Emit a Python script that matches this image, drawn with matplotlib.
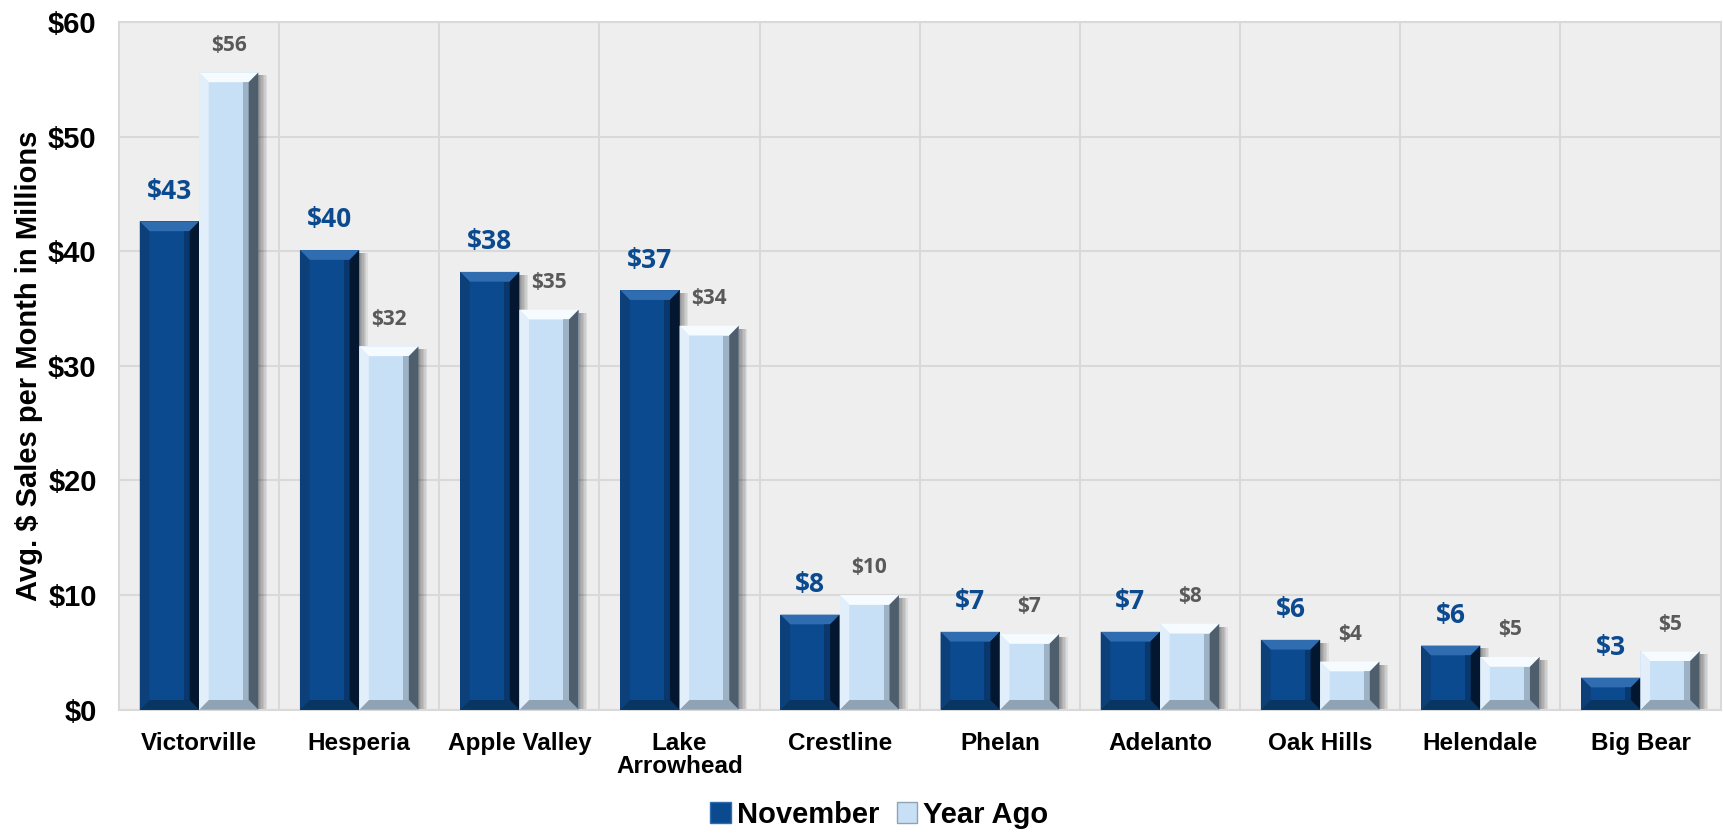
import numpy as np
import matplotlib.pyplot as plt
from matplotlib.patches import Polygon, Rectangle, Patch
from matplotlib.ticker import FuncFormatter

cities = ['Victorville', 'Hesperia', 'Apple Valley', 'Lake\nArrowhead', 'Crestline',
          'Phelan', 'Adelanto', 'Oak Hills', 'Helendale', 'Big Bear']
november = [42.6, 40.1, 38.2, 36.6, 8.3, 6.8, 6.8, 6.1, 5.6, 2.8]
year_ago = [55.6, 31.7, 34.9, 33.5, 10.0, 6.6, 7.5, 4.2, 4.6, 5.1]

NOV_COLOR = '#0B4A8E'
AGO_COLOR = '#C7E0F6'


def bevel_bar(ax, x0, w, h, base, top, left, right, bottom, dx=0.06, dy=0.85):
    x1 = x0 + w
    dy = min(dy, h / 3)
    # soft shadow on the right side
    for k in range(6):
        ax.add_patch(Rectangle((x1, 0), 0.009 * (k + 1), h - dy * 0.3,
                               color='black', alpha=0.07, lw=0, zorder=2))
    ax.add_patch(Rectangle((x0, 0), w, h, color=base, lw=0, zorder=3))
    faces = [
        ([(x0, h), (x1, h), (x1 - dx, h - dy), (x0 + dx, h - dy)], top),
        ([(x0, 0), (x1, 0), (x1 - dx, dy), (x0 + dx, dy)], bottom),
        ([(x0, 0), (x0 + dx, dy), (x0 + dx, h - dy), (x0, h)], left),
        ([(x1, 0), (x1 - dx, dy), (x1 - dx, h - dy), (x1, h)], right),
    ]
    for pts, c in faces:
        ax.add_patch(Polygon(pts, closed=True, color=c, lw=0, zorder=4))
    # darker inner strip next to the right face
    ax.add_patch(Rectangle((x1 - dx * 1.6, dy), dx * 0.6, h - 2 * dy,
                           color=right, alpha=0.35, lw=0, zorder=4))


fig = plt.figure(figsize=(17.24, 8.34), dpi=100)
ax = fig.add_axes([0.069, 0.149, 0.929, 0.8246])
ax.set_facecolor('#EEEEEE')

x = np.arange(len(cities))
bw = 0.37
for i in x:
    bevel_bar(ax, i - bw, bw, november[i], NOV_COLOR,
              top='#2F6DB0', left='#0D3F78', right='#031830', bottom='#083561')
    bevel_bar(ax, i, bw, year_ago[i], AGO_COLOR,
              top='#F6FBFF', left='#E2EFFA', right='#4F5E6C', bottom='#8FA3B5')
    ax.annotate(f'${november[i]:.0f}', (i - bw / 2, november[i]),
                xytext=(0, 12), textcoords='offset points', ha='center', va='bottom',
                fontsize=19, fontweight='bold', color='#0B4A8E', family='Open Sans')
    ax.annotate(f'${year_ago[i]:.0f}', (i + bw / 2, year_ago[i]),
                xytext=(0, 12), textcoords='offset points', ha='center', va='bottom',
                fontsize=15, fontweight='bold', color='#595959', family='Open Sans')

ax.set_xlim(-0.5, len(cities) - 0.5)
ax.set_ylim(0, 60)
ax.set_yticks(np.arange(0, 61, 10))
ax.yaxis.set_major_formatter(FuncFormatter(lambda v, p: f'${v:.0f}'))
ax.set_xticks(x)
ax.set_xticklabels(cities, linespacing=1.0)

for b in np.arange(0.5, len(cities) - 0.5, 1):
    ax.axvline(b, color='#D9D9D9', lw=1.5, zorder=1)
ax.yaxis.grid(True, color='#D9D9D9', lw=1.5, zorder=1)
ax.set_axisbelow(True)

for s in ax.spines.values():
    s.set_color('#D9D9D9')
    s.set_linewidth(1.5)

ax.tick_params(axis='y', length=0, pad=16, labelsize=21)
ax.tick_params(axis='x', length=0, pad=16, labelsize=17.5)
for lab in ax.get_xticklabels() + ax.get_yticklabels():
    lab.set_fontweight('bold')
    lab.set_family('Liberation Sans')

ax.set_ylabel('Avg. $ Sales per Month in Millions', fontsize=21, fontweight='bold',
              family='Liberation Sans', labelpad=4)

handles = [Patch(facecolor=NOV_COLOR, edgecolor='#2F6DB0'),
           Patch(facecolor=AGO_COLOR, edgecolor='#8FA3B5')]
fig.legend(handles, ['November', 'Year Ago'], loc='lower center',
           bbox_to_anchor=(0.51, -0.025), ncol=2, frameon=False,
           handlelength=0.7, handleheight=0.7, handletextpad=0.2, columnspacing=0.6,
           prop={'family': 'Liberation Sans', 'weight': 'bold', 'size': 21})

fig.savefig('out.png', dpi=100)
